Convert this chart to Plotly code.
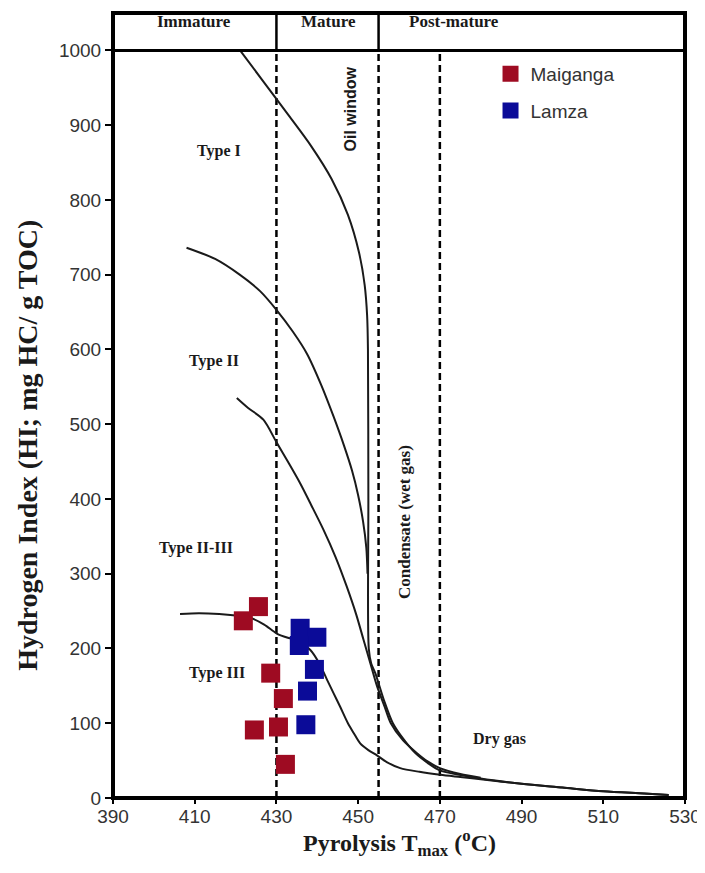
import plotly.graph_objects as go

# ---------------- data ----------------
maiganga_tmax = [421.9, 425.6, 428.6, 431.7, 424.6, 430.5, 432.2]
maiganga_hi = [237, 256, 167, 133, 91, 95, 45]

lamza_tmax = [435.8, 439.9, 435.6, 439.3, 437.6, 437.2]
lamza_hi = [227, 215, 204, 172, 143, 98]

type1_x = [421.1, 427.0, 433.0, 438.5, 443.5, 447.5, 450.2, 451.6, 452.2, 452.4, 452.5, 452.6,
           453.2, 454.2, 456.3, 458.5, 461.2, 464, 467, 470, 480, 490, 500, 510, 520, 526]
type1_y = [1000, 957, 913, 872, 828, 780, 730, 686, 645, 600, 400, 200,
           180, 167, 131, 100, 78, 60, 47, 37, 26, 19, 14, 9, 6, 4]

type2_x = [408.0, 415.0, 421.0, 426.0, 430.0, 434.0, 437.5, 441.0, 444.0, 446.5, 448.5, 450.0,
           451.2, 452.0, 452.3]
type2_y = [736, 721, 700, 678, 653, 624, 594, 552, 510, 472, 438, 405, 370, 335, 300]

type23_x = [420.3, 423, 426.8, 430.1, 433, 435.8, 438.5, 441.5, 444.5, 447.2, 449.5, 451.3,
            453, 454.6, 456.5, 458, 461, 464.4, 467, 470, 475, 480]
type23_y = [535, 522, 506, 475, 448, 421, 392, 359, 322, 283, 246, 212, 180, 150, 122, 100,
            77, 60, 49, 40, 32, 27]

type3_x = [406.4, 411, 416, 420, 423.6, 427, 430.1, 433, 435, 438.3, 440.5, 442.4, 444, 445.6,
           447.5, 448.9, 450.5, 452.5, 454.6, 457, 460.3, 465, 470.1, 475, 480, 490, 500, 510,
           520, 526]
type3_y = [246, 247, 246, 244, 241, 232, 220, 214, 211, 198, 180, 158, 140, 122, 100, 87, 73,
           64, 57, 48, 40, 35, 31, 28, 25, 19, 14, 9, 6, 4]

maturity_bounds = [430, 455, 470]
x_ticks = [390, 410, 430, 450, 470, 490, 510, 530]
y_ticks = [0, 100, 200, 300, 400, 500, 600, 700, 800, 900, 1000]

zone_labels = ["Immature", "Mature", "Post-mature"]
zone_label_x = [409.8, 442.8, 473.5]

type_labels = ["Type I", "Type II", "Type II-III", "Type III", "Dry gas"]
type_label_x = [415.9, 414.6, 410.2, 415.5, 484.5]
type_label_y = [866, 584, 335, 167, 79]

x_title = "Pyrolysis T<sub>max</sub> (<sup>o</sup>C)"
y_title = "Hydrogen Index (HI; mg HC/ g TOC)"

# ---------------- figure ----------------
SERIF = "Liberation Serif, Times New Roman, serif"
SANS = "Liberation Sans, Arial, sans-serif"
line_style = dict(color="#1a1a1a", width=2)

fig = go.Figure()
for cx, cy in [(type1_x, type1_y), (type2_x, type2_y), (type23_x, type23_y), (type3_x, type3_y)]:
    fig.add_trace(go.Scatter(x=cx, y=cy, mode="lines",
                             line=dict(line_style, shape="spline", smoothing=0.8),
                             showlegend=False, hoverinfo="skip"))

fig.add_trace(go.Scatter(x=maiganga_tmax, y=maiganga_hi, mode="markers", name="Maiganga",
                         legendgroup="m",
                         marker=dict(symbol="square", size=19, color="#9E0B22")))
fig.add_trace(go.Scatter(x=lamza_tmax, y=lamza_hi, mode="markers", name="Lamza",
                         legendgroup="l",
                         marker=dict(symbol="square", size=19, color="#0B0B98")))

YTOP = 1050
shapes = []
shapes.append(dict(type="rect", xref="paper", yref="paper", x0=0, x1=1, y0=0, y1=1,
                   line=dict(color="black", width=4), layer="above"))
shapes.append(dict(type="line", xref="paper", yref="y", x0=0, x1=1, y0=1000, y1=1000,
                   line=dict(color="black", width=3), layer="above"))
for b in maturity_bounds[:2]:
    shapes.append(dict(type="line", xref="x", yref="y", x0=b, x1=b, y0=1000, y1=YTOP,
                       line=dict(color="black", width=2.5), layer="above"))
for b in maturity_bounds:
    shapes.append(dict(type="line", xref="x", yref="y", x0=b, x1=b, y0=0, y1=1000,
                       line=dict(color="black", width=2.5, dash="7px,4px"), layer="below"))
fig.update_layout(shapes=shapes)

annotations = []
for t, x in zip(zone_labels, zone_label_x):
    annotations.append(dict(x=x, y=1039, xref="x", yref="y", text=t, showarrow=False,
                            font=dict(family=SERIF, size=17, color="#1a1a1a", weight="bold")))
for t, x, y in zip(type_labels, type_label_x, type_label_y):
    annotations.append(dict(x=x, y=y, xref="x", yref="y", text=t, showarrow=False,
                            font=dict(family=SERIF, size=16, color="#1a1a1a", weight="bold")))
annotations.append(dict(x=448.2, y=922, xref="x", yref="y", text="Oil window", showarrow=False,
                        textangle=-90,
                        font=dict(family=SANS, size=16, color="#1a1a1a", weight="bold")))
annotations.append(dict(x=461.2, y=369, xref="x", yref="y", text="Condensate (wet gas)",
                        showarrow=False, textangle=-90,
                        font=dict(family=SERIF, size=17, color="#1a1a1a", weight="bold")))
# axis titles
annotations.append(dict(x=460, y=0, xref="x", yref="paper", yanchor="middle", yshift=-45,
                        text=x_title, showarrow=False,
                        font=dict(family=SERIF, size=24, color="#1a1a1a", weight="bold")))
annotations.append(dict(x=0, y=471, xref="paper", yref="y", xanchor="center", xshift=-85,
                        text=y_title, showarrow=False, textangle=-90,
                        font=dict(family=SERIF, size=28, color="#1a1a1a", weight="bold")))
fig.update_layout(annotations=annotations)

fig.update_xaxes(range=[390, 530], tickvals=x_ticks, ticks="outside", ticklen=5, tickwidth=1.5,
                 tickcolor="black", showgrid=False, zeroline=False, showline=False,
                 automargin=False, ticklabelstandoff=-4, ticklabeloverflow="allow",
                 tickfont=dict(family=SANS, size=19, color="#333333"))
fig.update_yaxes(range=[0, YTOP], tickvals=y_ticks, ticks="outside", ticklen=7, tickwidth=1.5,
                 tickcolor="black", showgrid=False, zeroline=False, showline=False,
                 automargin=False, ticklabeloverflow="allow",
                 tickfont=dict(family=SANS, size=19, color="#333333"))

# The page body keeps its default 8px margin; the figure is offset by it.
fig.update_layout(
    width=697, height=865,
    margin=dict(l=105, r=20, t=5, b=75, autoexpand=False),
    paper_bgcolor="white", plot_bgcolor="white",
    showlegend=True,
    legend=dict(x=0.66, y=0.9465, xanchor="left", yanchor="top", bgcolor="rgba(0,0,0,0)",
                font=dict(family=SANS, size=19, color="#333333"), tracegroupgap=9),
)

fig.write_html("out.html")
